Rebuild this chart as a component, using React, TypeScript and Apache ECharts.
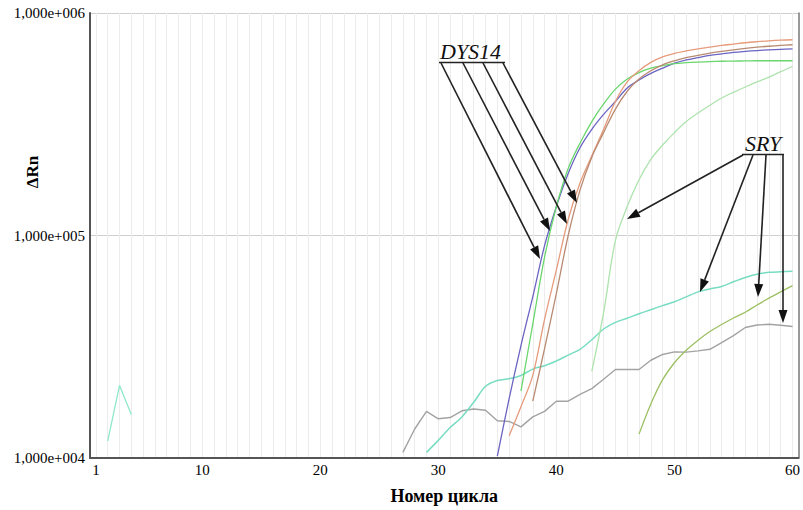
import React, { useEffect, useRef } from 'react';
import * as echarts from 'echarts';

// Cycle numbers (x categories)
const cycles: string[] = Array.from({ length: 60 }, (_, i) => String(i + 1));
const xLabelCycles = ['1', '10', '20', '30', '40', '50', '60'];

// Series: first cycle + ΔRn values
const artifactStart = 2;
const artifact = [11900, 21200, 15700];

const dysPurpleStart = 35;
const dysPurple = [10200, 18500, 32000, 53000, 90000, 135000, 190000, 248000, 300000, 350000, 400000, 460000, 500000, 535000, 565000, 595000, 615000, 630000, 645000, 655000, 665000, 672000, 678000, 683000, 687000, 690000];

const dysGreenStart = 37;
const dysGreen = [20000, 40000, 80000, 135000, 200000, 260000, 325000, 390000, 455000, 505000, 540000, 565000, 580000, 592000, 598000, 602000, 605000, 607000, 608000, 609000, 610000, 610000, 610000, 610000];

const dysOrangeStart = 36;
const dysOrange = [12600, 17000, 23500, 42000, 70000, 118000, 172000, 228000, 300000, 400000, 490000, 550000, 600000, 635000, 658000, 675000, 690000, 703000, 715000, 725000, 735000, 743000, 750000, 755000, 758000];

const dysBrownStart = 38;
const dysBrown = [18000, 31000, 55000, 100000, 160000, 225000, 290000, 370000, 445000, 505000, 550000, 585000, 610000, 630000, 645000, 660000, 672000, 683000, 693000, 702000, 709000, 715000, 720000];

const sryLightStart = 43;
const sryLight = [24500, 45000, 95000, 135000, 178000, 220000, 255000, 290000, 325000, 355000, 385000, 415000, 440000, 465000, 490000, 515000, 545000, 575000];

const sryTealStart = 29;
const sryTeal = [10600, 12000, 13700, 15300, 17800, 21000, 22300, 22700, 23500, 25100, 26000, 27300, 29000, 30800, 34000, 38000, 40700, 42500, 44500, 46400, 48400, 50400, 53000, 55800, 57500, 59000, 62000, 64800, 67000, 68300, 68700, 69000];

const sryOliveStart = 47;
const sryOlive = [12800, 17500, 22500, 26800, 30500, 33800, 37000, 39800, 42600, 45200, 48700, 52300, 55800, 59500];

const sryGrayStart = 27;
const sryGray = [10600, 13500, 16200, 15000, 15200, 16300, 16600, 16400, 14700, 14600, 13800, 15300, 16200, 18000, 18000, 19300, 20500, 22600, 25000, 25000, 25000, 27500, 29200, 30000, 29900, 30300, 30800, 33000, 35500, 38600, 39600, 39900, 39500, 39000];

const yLabels = ['1,000e+004', '1,000e+005', '1,000e+006'];

function place(start: number, vals: number[]): (number | null)[] {
  const out: (number | null)[] = cycles.map(() => null);
  vals.forEach((v, i) => {
    out[start - 1 + i] = v;
  });
  return out;
}

const FONT = 'Liberation Serif';

function arrow(x1: number, y1: number, x2: number, y2: number): any[] {
  const dx = x2 - x1;
  const dy = y2 - y1;
  const len = Math.sqrt(dx * dx + dy * dy);
  const ux = dx / len;
  const uy = dy / len;
  const L = 13;
  const W = 4.5;
  const bx = x2 - ux * L;
  const by = y2 - uy * L;
  return [
    {
      type: 'line',
      shape: { x1, y1, x2: bx, y2: by },
      style: { stroke: '#222', lineWidth: 1.6 },
      z: 100,
    },
    {
      type: 'polygon',
      shape: {
        points: [
          [x2, y2],
          [bx - uy * W, by + ux * W],
          [bx + uy * W, by - ux * W],
        ],
      },
      style: { fill: '#111' },
      z: 100,
    },
  ];
}

export default function App() {
  const ref = useRef<HTMLDivElement>(null);

  useEffect(() => {
    if (!ref.current) return;
    const chart = echarts.init(ref.current, undefined, { renderer: 'svg' });

    const mk = (name: string, start: number, vals: number[], color: string, width = 1.3, smooth: number | boolean = 0.35) => ({
      name,
      type: 'line',
      data: place(start, vals),
      showSymbol: false,
      symbol: 'none',
      connectNulls: false,
      smooth,
      lineStyle: { color, width },
      itemStyle: { color },
      z: 5,
    });

    const graphics: any[] = [
      {
        type: 'text',
        x: 32,
        y: 172,
        rotation: Math.PI / 2,
        style: {
          text: 'ΔRn',
          font: `bold 17px "${FONT}"`,
          fill: '#000',
          textAlign: 'center',
          textVerticalAlign: 'middle',
        },
      },
      {
        type: 'text',
        x: 440,
        y: 51,
        style: {
          text: 'DYS14',
          font: `italic 22px "${FONT}"`,
          fill: '#111',
          textAlign: 'left',
          textVerticalAlign: 'middle',
        },
        z: 100,
      },
      {
        type: 'line',
        shape: { x1: 439, y1: 62.5, x2: 505, y2: 62.5 },
        style: { stroke: '#222', lineWidth: 1.6 },
        z: 100,
      },
      ...arrow(441, 63, 540, 259),
      ...arrow(463, 63, 550, 231),
      ...arrow(483, 63, 567, 224),
      ...arrow(503, 63, 577, 203),
      {
        type: 'text',
        x: 745,
        y: 143,
        style: {
          text: 'SRY',
          font: `italic 22px "${FONT}"`,
          fill: '#111',
          textAlign: 'left',
          textVerticalAlign: 'middle',
        },
        z: 100,
      },
      {
        type: 'line',
        shape: { x1: 742, y1: 154.5, x2: 784, y2: 154.5 },
        style: { stroke: '#222', lineWidth: 1.6 },
        z: 100,
      },
      ...arrow(743, 155, 627, 219),
      ...arrow(753, 155, 700, 292),
      ...arrow(766, 155, 758, 297),
      ...arrow(783, 155, 783, 323),
    ];

    chart.setOption({
      animation: false,
      backgroundColor: '#fff',
      grid: { left: 90, right: 3, top: 13, bottom: 51, containLabel: false },
      xAxis: {
        type: 'category',
        data: cycles,
        boundaryGap: true,
        axisLine: { show: true, lineStyle: { color: '#555', width: 2 } },
        axisTick: { show: false },
        axisLabel: {
          interval: (_i: number, v: string) => xLabelCycles.includes(v),
          color: '#000',
          fontFamily: FONT,
          fontSize: 15,
          margin: 4,
        },
        splitLine: {
          show: true,
          interval: 0,
          alignWithLabel: true,
          lineStyle: { color: '#ececec', width: 1 },
        },
        name: 'Номер цикла',
        nameLocation: 'middle',
        nameGap: 29,
        nameTextStyle: { fontFamily: FONT, fontWeight: 'bold', fontSize: 18, color: '#000' },
      },
      yAxis: [
        {
          type: 'log',
          logBase: 10,
          min: 10000,
          max: 1000000,
          axisLine: { show: true, lineStyle: { color: '#555', width: 2 } },
          axisTick: { show: false },
          axisLabel: {
            color: '#000',
            fontFamily: FONT,
            fontSize: 15,
            margin: 5,
            formatter: (v: number) => yLabels[Math.round(Math.log10(v)) - 4] ?? '',
          },
          splitLine: { show: true, lineStyle: { color: '#cfcfcf', width: 1 } },
        },
        {
          type: 'log',
          logBase: 10,
          min: 10000,
          max: 1000000,
          position: 'right',
          axisLine: { show: true, lineStyle: { color: '#777', width: 1.5 } },
          axisTick: { show: false },
          axisLabel: { show: false },
          splitLine: { show: false },
        },
      ],
      series: [
        mk('artifact', artifactStart, artifact, '#8fe8cc', 1.3, false),
        mk('sryGray', sryGrayStart, sryGray, '#a3a3a3', 1.4, false),
        mk('sryTeal', sryTealStart, sryTeal, '#78dcc2', 1.5, 0.3),
        mk('sryOlive', sryOliveStart, sryOlive, '#9cc062', 1.3),
        mk('sryLight', sryLightStart, sryLight, '#ade3ad', 1.3),
        mk('dysPurple', dysPurpleStart, dysPurple, '#6a64c2', 1.3),
        mk('dysGreen', dysGreenStart, dysGreen, '#6ad66e', 1.3),
        mk('dysOrange', dysOrangeStart, dysOrange, '#e59b7c', 1.3),
        mk('dysBrown', dysBrownStart, dysBrown, '#b98a72', 1.3),
      ],
      graphic: graphics,
    });

    return () => chart.dispose();
  }, []);

  return (
    <div
      ref={ref}
      style={{ position: 'absolute', left: 0, top: 0, width: 803, height: 510 }}
    />
  );
}
